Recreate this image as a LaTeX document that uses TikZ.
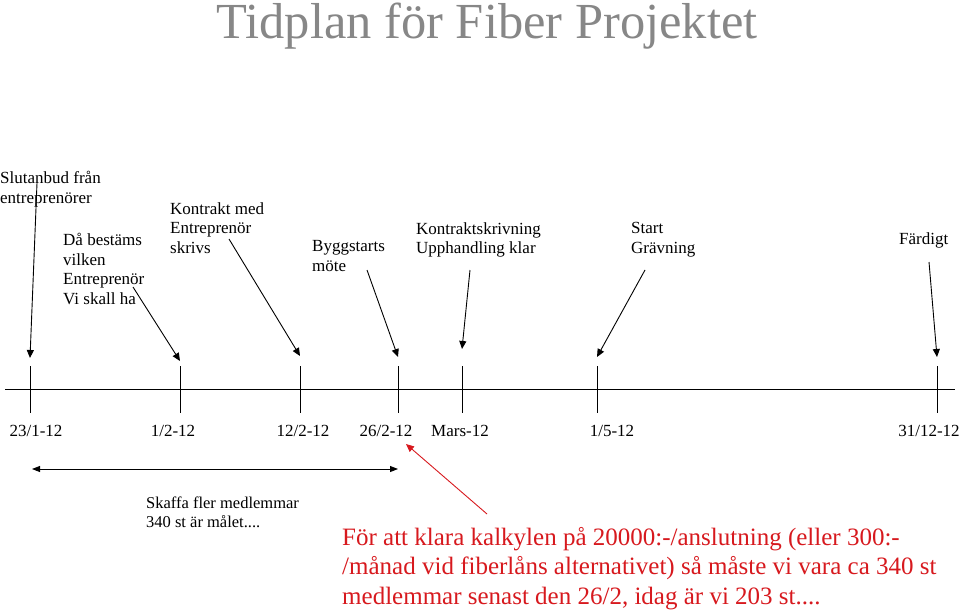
\documentclass[tikz,border=0pt]{standalone}
\usepackage{fontspec}
\setmainfont{Liberation Serif}
\usetikzlibrary{arrows.meta}
\definecolor{titlegray}{RGB}{135,135,135}
\definecolor{notered}{RGB}{215,25,30}
\tikzset{
  lbl/.style={font=\fontsize{17}{19.6}\selectfont, align=left, inner sep=0pt, anchor=west},
  datelbl/.style={font=\fontsize{17}{19}\selectfont, inner sep=0pt, anchor=base},
  tick/.style={line width=0.9pt},
  ptr/.style={line width=0.9pt, -{Triangle[length=8pt,width=7pt]}},
  span/.style={line width=0.9pt, {Triangle[length=8pt,width=6pt]}-{Triangle[length=8pt,width=6pt]}},
  redptr/.style={notered, line width=0.9pt, -{Triangle[length=8pt,width=7pt]}}
}
\begin{document}
\begin{tikzpicture}[x=1pt,y=-1pt]
\useasboundingbox (0,0) rectangle (960,610);
% title
\node[font=\fontsize{50.5}{54}\selectfont, text=titlegray, inner sep=0pt, anchor=base] (title) at (487,38) {Tidplan för Fiber Projektet};
% timeline
\coordinate (tl0) at (5,389);
\coordinate (tl1) at (955,389);
\draw[tick] (tl0) -- (tl1);
\foreach \n/\x in {a/30,b/180,c/300,d/398,e/462,f/597,g/937}{
  \coordinate (\n top) at (\x,366);
  \coordinate (\n bot) at (\x,413);
  \draw[tick] (\n top) -- (\n bot);
}
% date labels
\node[datelbl] (da) at (36,436) {23/1-12};
\node[datelbl] (db) at (173,436) {1/2-12};
\node[datelbl] (dc) at (303,436) {12/2-12};
\node[datelbl] (dd) at (386,436) {26/2-12};
\node[datelbl] (de) at (460,436) {Mars-12};
\node[datelbl] (df) at (612,436) {1/5-12};
\node[datelbl] (dg) at (929,436) {31/12-12};
% milestone labels
\node[lbl] (l1) at (0,189) {Slutanbud från\\entreprenörer};
\node[lbl] (l2) at (63,269) {Då bestäms\\vilken\\Entreprenör\\Vi skall ha};
\node[lbl] (l3) at (170,228) {Kontrakt med\\Entreprenör\\skrivs};
\node[lbl] (l4) at (312,256) {Byggstarts\\möte};
\node[lbl] (l5) at (416,240) {Kontraktskrivning\\Upphandling klar};
\node[lbl] (l6) at (631,240) {Start\\Grävning};
\node[lbl] (l7) at (899,240) {Färdigt};
% arrow tails and tips
\coordinate (s1) at (37,183);  \coordinate (e1) at (30,358);
\coordinate (s2) at (133,287); \coordinate (e2) at (180,361);
\coordinate (s3) at (229,239); \coordinate (e3) at (300,356);
\coordinate (s4) at (367,270); \coordinate (e4) at (398,357);
\coordinate (s5) at (470,270); \coordinate (e5) at (462,349);
\coordinate (s6) at (645,270); \coordinate (e6) at (597,357);
\coordinate (s7) at (929,262); \coordinate (e7) at (937,357);
\foreach \i in {1,...,7}{\draw[ptr] (s\i) -- (e\i);}
% span arrow
\coordinate (sp0) at (32,469);
\coordinate (sp1) at (398,469);
\draw[span] (sp0) -- (sp1);
\node[lbl, font=\fontsize{16.5}{19}\selectfont, anchor=north west] (skaffa) at (146,497) {Skaffa fler medlemmar\\340 st är målet....};
% red note
\node[font=\fontsize{25}{29.5}\selectfont, text=notered, align=left, inner sep=0pt, anchor=base west] (note) at (342,604) {För att klara kalkylen på 20000:-/anslutning (eller 300:-\\/månad vid fiberlåns alternativet) så måste vi vara ca 340 st\\medlemmar senast den 26/2, idag är vi 203 st....};
\coordinate (rs) at (487,514);
\coordinate (re) at (406,444);
\draw[redptr] (rs) -- (re);
\end{tikzpicture}
\end{document}
